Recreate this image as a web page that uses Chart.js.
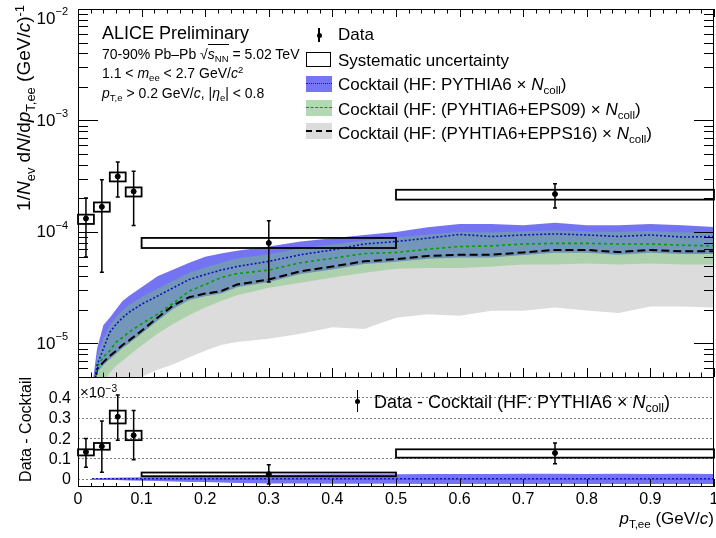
<!DOCTYPE html>
<html>
<head>
<meta charset="utf-8">
<script src="https://cdn.jsdelivr.net/npm/chart.js@4.4.1/dist/chart.umd.min.js"></script>
<style>
  body { margin: 0; background: #fff; }
  #wrap { position: relative; width: 716px; height: 538px; overflow: hidden;
          font-family: "Liberation Sans", Arial, sans-serif; color: #000; }
  canvas { position: absolute; left: 0; }
  .t { position: absolute; white-space: nowrap; line-height: 1; }
  .t sub { font-size: 0.68em; vertical-align: -0.35em; line-height: 0; }
  .t sup { font-size: 0.68em; vertical-align: 0.5em; line-height: 0; }
  .rot { transform-origin: 0 0; transform: rotate(-90deg) translateX(-100%); }
  .sw { position: absolute; }
  .sqrt { border-top: 1px solid #000; padding-top: 1px; }
</style>
</head>
<body>
<div id="wrap">
  <canvas id="topChart" width="716" height="378" style="top:0"></canvas>
  <canvas id="diffChart" width="716" height="168" style="top:370px"></canvas>

  <!-- annotations -->
  <div class="t" style="left:102px; top:24px; font-size:18px;">ALICE Preliminary</div>
  <div class="t" style="left:102px; top:47px; font-size:14px;">70-90% Pb–Pb √<span class="sqrt"><i>s</i><sub>NN</sub></span> = 5.02 TeV</div>
  <div class="t" style="left:102px; top:66px; font-size:14px;">1.1 &lt; <i>m</i><sub>ee</sub> &lt; 2.7 GeV/<i>c</i><sup>2</sup></div>
  <div class="t" style="left:102px; top:86px; font-size:14px;"><i>p</i><sub>T,e</sub> &gt; 0.2 GeV/<i>c</i>, |<i>η</i><sub>e</sub>| &lt; 0.8</div>

  <!-- legend top -->
  <div class="sw" style="left:318px; top:28px; width:1.5px; height:14px; background:#000;"></div>
  <div class="sw" style="left:316.5px; top:32.5px; width:5px; height:5px; border-radius:50%; background:#000;"></div>
  <div class="sw" style="left:306px; top:52px; width:23px; height:13px; border:1.5px solid #000;"></div>
  <div class="sw" style="left:306px; top:76px; width:26px; height:16px; background:rgb(118,118,244);"></div>
  <div class="sw" style="left:306px; top:83px; width:26px; height:0; border-top:1.5px dotted #1010c0;"></div>
  <div class="sw" style="left:306px; top:100px; width:26px; height:16px; background:rgb(178,218,178);"></div>
  <div class="sw" style="left:306px; top:107px; width:26px; height:0; border-top:1.5px dashed #00a000;"></div>
  <div class="sw" style="left:306px; top:123px; width:26px; height:16px; background:#dcdcdc;"></div>
  <div class="sw" style="left:306px; top:130px; width:26px; height:0; border-top:2px dashed #000;"></div>
  <div class="t" style="left:338px; top:26px; font-size:17px;">Data</div>
  <div class="t" style="left:338px; top:52px; font-size:17px;">Systematic uncertainty</div>
  <div class="t" style="left:338px; top:76px; font-size:17px;">Cocktail (HF: PYTHIA6 × <i>N</i><sub>coll</sub>)</div>
  <div class="t" style="left:338px; top:101px; font-size:17px;">Cocktail (HF: (PYHTIA6+EPS09) × <i>N</i><sub>coll</sub>)</div>
  <div class="t" style="left:338px; top:125px; font-size:17px;">Cocktail (HF: (PYHTIA6+EPPS16) × <i>N</i><sub>coll</sub>)</div>

  <!-- axis titles -->
  <div class="t rot" style="left:14px; top:5px; font-size:19px;">1/<i>N</i><sub>ev</sub> d<i>N</i>/d<i>p</i><sub>T,ee</sub> (GeV/<i>c</i>)<sup>-1</sup></div>
  <div class="t rot" style="left:18px; top:377px; font-size:16px;">Data - Cocktail</div>
  <div class="t" style="left:80px; top:384px; font-size:15px;">×10<sup>−3</sup></div>
  <div class="t" style="right:2px; top:510px; font-size:17px;"><i>p</i><sub>T,ee</sub> (GeV/<i>c</i>)</div>

  <!-- legend bottom -->
  <div class="sw" style="left:356.5px; top:390px; width:1.5px; height:22px; background:#000;"></div>
  <div class="sw" style="left:355px; top:398.5px; width:5px; height:5px; border-radius:50%; background:#000;"></div>
  <div class="t" style="left:374px; top:393px; font-size:18px;">Data - Cocktail (HF: PYTHIA6 × <i>N</i><sub>coll</sub>)</div>
</div>
<script>
// cocktail grid in pT,ee (GeV/c)
const xs = [0.022, 0.03, 0.04, 0.05, 0.06, 0.07, 0.08, 0.1, 0.125, 0.15, 0.175, 0.2, 0.225, 0.25,
            0.3, 0.35, 0.4, 0.45, 0.5, 0.55, 0.6, 0.65, 0.7, 0.75, 0.8, 0.85, 0.9, 0.95, 1.0];

// cocktail HF: PYTHIA6 x Ncoll
const blueHi = [4e-6, 9e-6, 1.46e-5, 1.7e-5, 2.03e-5, 2.4e-5, 2.66e-5, 3.2e-5, 4.0e-5, 4.6e-5, 5.3e-5, 6.0e-5, 6.4e-5, 6.8e-5,
                7.4e-5, 8.2e-5, 8.8e-5, 9.4e-5, 1.0e-4, 1.1e-4, 1.18e-4, 1.18e-4, 1.15e-4, 1.21e-4, 1.15e-4, 1.15e-4, 1.18e-4, 1.15e-4, 1.11e-4];
const blueCenter = [3e-6, 6.4e-6, 9e-6, 1.26e-5, 1.49e-5, 1.7e-5, 1.9e-5, 2.25e-5, 2.66e-5, 3.16e-5, 3.75e-5, 4.15e-5, 4.55e-5, 4.9e-5,
                    5.45e-5, 6.25e-5, 6.9e-5, 7.8e-5, 8.2e-5, 8.8e-5, 9.5e-5, 9.1e-5, 9.4e-5, 9.6e-5, 9.4e-5, 9.1e-5, 9.4e-5, 9.0e-5, 9.1e-5];
const blueLo = [2.3e-6, 5.5e-6, 6.4e-6, 7.2e-6, 8.1e-6, 9.1e-6, 1.0e-5, 1.23e-5, 1.6e-5, 2.05e-5, 2.45e-5, 2.65e-5, 2.8e-5, 3.2e-5,
                3.55e-5, 4.2e-5, 4.6e-5, 5.15e-5, 5.4e-5, 5.75e-5, 5.9e-5, 5.9e-5, 6.2e-5, 6.5e-5, 6.5e-5, 6.25e-5, 6.5e-5, 6.35e-5, 6.35e-5];

// cocktail HF: (PYTHIA6+EPS09) x Ncoll
const greenHi = [3.5e-6, 7.5e-6, 1.1e-5, 1.45e-5, 1.72e-5, 1.97e-5, 2.2e-5, 2.6e-5, 3.1e-5, 3.65e-5, 4.3e-5, 4.8e-5, 5.3e-5, 5.8e-5,
                 6.3e-5, 7.1e-5, 7.7e-5, 8.4e-5, 8.9e-5, 9.5e-5, 1.0e-4, 9.9e-5, 1.01e-4, 1.03e-4, 1.01e-4, 1.0e-4, 1.02e-4, 9.9e-5, 9.9e-5];
const greenCenter = [3e-6, 6.2e-6, 7.6e-6, 8.6e-6, 1.03e-5, 1.13e-5, 1.26e-5, 1.5e-5, 1.83e-5, 2.3e-5, 2.95e-5, 3.38e-5, 3.9e-5, 4.23e-5,
                     4.55e-5, 5.3e-5, 5.8e-5, 6.4e-5, 6.55e-5, 7.0e-5, 7.4e-5, 7.5e-5, 7.8e-5, 7.9e-5, 7.9e-5, 7.8e-5, 7.8e-5, 7.6e-5, 7.5e-5];
const greenLo = [2e-6, 3e-6, 4.5e-6, 5.5e-6, 6.3e-6, 7e-6, 7.8e-6, 9.6e-6, 1.22e-5, 1.5e-5, 1.8e-5, 2.1e-5, 2.4e-5, 2.7e-5,
                 3.16e-5, 3.5e-5, 3.9e-5, 4.3e-5, 4.67e-5, 4.75e-5, 4.75e-5, 4.9e-5, 5.1e-5, 5.1e-5, 5.2e-5, 5.1e-5, 5.2e-5, 5.1e-5, 5.1e-5];

// cocktail HF: (PYTHIA6+EPPS16) x Ncoll
const grayCenter = [2.5e-6, 5.9e-6, 6.8e-6, 7.7e-6, 8.6e-6, 9.7e-6, 1.06e-5, 1.3e-5, 1.7e-5, 2.2e-5, 2.6e-5, 2.8e-5, 2.95e-5, 3.38e-5,
                    3.74e-5, 4.44e-5, 4.9e-5, 5.45e-5, 5.7e-5, 6.1e-5, 6.25e-5, 6.25e-5, 6.55e-5, 6.9e-5, 6.9e-5, 6.6e-5, 6.9e-5, 6.7e-5, 6.7e-5];
const grayLo = [1e-6, 1.5e-6, 2e-6, 2.5e-6, 3e-6, 3.5e-6, 4e-6, 5e-6, 5.8e-6, 6.5e-6, 7.5e-6, 8.6e-6, 9.7e-6, 1.03e-5,
                1.1e-5, 1.22e-5, 1.4e-5, 1.35e-5, 1.7e-5, 1.83e-5, 1.77e-5, 1.96e-5, 1.96e-5, 2.1e-5, 1.97e-5, 1.88e-5, 2.15e-5, 2.15e-5, 2.1e-5];

// data
const dataX = [0.0125, 0.0375, 0.0625, 0.0875, 0.3, 0.75];
const binLo = [0, 0.025, 0.05, 0.075, 0.1, 0.5];
const binHi = [0.025, 0.05, 0.075, 0.1, 0.5, 1.0];
const dataY = [1.32e-4, 1.68e-4, 3.15e-4, 2.31e-4, 7.97e-5, 2.19e-4];
const statHi = [2.02e-4, 2.94e-4, 4.24e-4, 3.5e-4, 1.26e-4, 2.71e-4];
const statLo = [5.97e-5, 4.34e-5, 2.06e-4, 1.14e-4, 3.56e-5, 1.64e-4];
const sysHi = [1.43e-4, 1.84e-4, 3.42e-4, 2.51e-4, 8.84e-5, 2.39e-4];
const sysLo = [1.18e-4, 1.52e-4, 2.84e-4, 2.08e-4, 7.18e-5, 1.95e-4];

// data - cocktail (x 1e-3)
const diffY = [0.132, 0.16, 0.305, 0.214, 0.023, 0.127];
const diffStatHi = [0.198, 0.284, 0.412, 0.335, 0.069, 0.176];
const diffStatLo = [0.057, 0.033, 0.19, 0.094, -0.025, 0.074];
const diffSysHi = [0.145, 0.176, 0.335, 0.236, 0.031, 0.145];
const diffSysLo = [0.115, 0.143, 0.272, 0.19, 0.013, 0.104];
const diffBandHi = [0.002, 0.003, 0.004, 0.005, 0.006, 0.007, 0.007, 0.008, 0.01, 0.012, 0.014, 0.015, 0.016, 0.017,
                    0.02, 0.021, 0.022, 0.023, 0.023, 0.024, 0.024, 0.024, 0.025, 0.025, 0.024, 0.025, 0.024, 0.025, 0.024];
const diffBandLo = [-0.002, -0.003, -0.004, -0.005, -0.006, -0.007, -0.008, -0.009, -0.011, -0.013, -0.015, -0.016, -0.018, -0.02,
                    -0.023, -0.023, -0.024, -0.024, -0.024, -0.025, -0.025, -0.025, -0.025, -0.025, -0.025, -0.025, -0.025, -0.025, -0.025];
const diffCenter = [0, 0, 0, 0, 0, 0, 0, 0, 0, 0, 0, 0, 0, 0, 0, 0, 0, 0, 0, 0, 0, 0, 0, 0, 0, 0, 0, 0, 0];

// ticks
const xTickValues = [0, 0.1, 0.2, 0.3, 0.4, 0.5, 0.6, 0.7, 0.8, 0.9, 1];
const xTickLabels = ["0", "0.1", "0.2", "0.3", "0.4", "0.5", "0.6", "0.7", "0.8", "0.9", "1"];
const yTopDecades = [-5, -4, -3, -2];
const yDiffTicks = [0, 0.1, 0.2, 0.3, 0.4];
const yDiffLabels = ["0", "0.1", "0.2", "0.3", "0.4"];

const FONT = '"Liberation Sans", Arial, sans-serif';
const BLUE_FILL = "rgba(85,85,240,0.82)";
const GREEN_FILL = "rgba(115,195,115,0.45)";
const GRAY_FILL = "#dcdcdc";

function pts(arr) {
  return xs.map((x, i) => ({ x: x, y: arr[i] }));
}

function line(arr, color, dash, width, order) {
  return { data: pts(arr), borderColor: color, borderDash: dash, borderWidth: width,
           pointRadius: 0, pointHoverRadius: 0, fill: false, order: order, tension: 0 };
}

function band(arr, target, color, order) {
  return { data: pts(arr), borderColor: "transparent", borderWidth: 0, pointRadius: 0, pointHoverRadius: 0,
           fill: target === null ? false : { target: target }, backgroundColor: color, order: order };
}

function drawMeasurements(ctx, x, y, vals, lo, hi, sLo, sHi) {
  ctx.save();
  ctx.strokeStyle = "#000";
  for (let i = 0; i < dataX.length; i++) {
    const x0 = x.getPixelForValue(binLo[i]);
    const x1 = x.getPixelForValue(binHi[i]);
    const y0 = y.getPixelForValue(sHi[i]);
    const y1 = y.getPixelForValue(sLo[i]);
    ctx.lineWidth = 1.8;
    ctx.strokeRect(x0, y0, x1 - x0, y1 - y0);
    const px = x.getPixelForValue(dataX[i]);
    const e0 = y.getPixelForValue(hi[i]);
    const e1 = y.getPixelForValue(lo[i]);
    ctx.lineWidth = 1.5;
    ctx.beginPath();
    ctx.moveTo(px, e0); ctx.lineTo(px, e1);
    ctx.moveTo(px - 2, e0); ctx.lineTo(px + 2, e0);
    ctx.moveTo(px - 2, e1); ctx.lineTo(px + 2, e1);
    ctx.stroke();
  }
  ctx.restore();
}

const topDecor = {
  id: "topDecor",
  afterDatasetsDraw(chart) {
    const { ctx, scales } = chart;
    drawMeasurements(ctx, scales.x, scales.y, dataY, statLo, statHi, sysLo, sysHi);
  },
  afterDraw(chart) {
    const { ctx, chartArea: a, scales } = chart;
    const x = scales.x, y = scales.y;
    ctx.save();
    ctx.strokeStyle = "#000";
    ctx.lineWidth = 1;
    ctx.beginPath();
    for (let i = 0; i <= 50; i++) {
      const px = Math.round(x.getPixelForValue(i / 50)) + 0.5;
      const major = i % 5 === 0;
      ctx.moveTo(px, a.bottom); ctx.lineTo(px, a.bottom - (major ? 9 : 4.5));
      ctx.moveTo(px, a.top); ctx.lineTo(px, a.top + (major ? 8 : 4.5));
    }
    for (let e = -6; e <= -2; e++) {
      for (let m = 1; m <= 9; m++) {
        const v = m * Math.pow(10, e);
        if (v < y.min || v > y.max) continue;
        const py = Math.round(y.getPixelForValue(v)) + 0.5;
        const len = m === 1 ? 20 : 10;
        ctx.moveTo(a.left, py); ctx.lineTo(a.left + len, py);
        ctx.moveTo(a.right, py); ctx.lineTo(a.right - len, py);
      }
    }
    ctx.stroke();
    ctx.strokeRect(a.left + 0.5, a.top + 0.5, a.right - a.left - 1, a.bottom - a.top);

    // decade labels 10^n
    ctx.fillStyle = "#000";
    ctx.textBaseline = "alphabetic";
    yTopDecades.forEach(e => {
      const py = Math.max(y.getPixelForValue(Math.pow(10, e)), a.top + 9);
      const sup = "\u2212" + (-e);
      ctx.font = "11px " + FONT;
      const ws = ctx.measureText(sup).width;
      ctx.font = "17px " + FONT;
      const wb = ctx.measureText("10").width;
      ctx.fillText("10", 68 - ws - wb, py + 5.5);
      ctx.font = "11px " + FONT;
      ctx.fillText(sup, 68 - ws, py - 3);
    });
    ctx.restore();
  }
};

new Chart(document.getElementById("topChart"), {
  type: "line",
  data: {
    datasets: [
      line(blueCenter, "#1010c0", [2, 2], 1.6, 0),
      line(greenCenter, "#00a000", [3, 3], 1.6, 1),
      line(grayCenter, "#000", [8, 4], 2, 2),
      { data: dataX.map((x, i) => ({ x: x, y: dataY[i] })), showLine: false, pointRadius: 2.5, pointHoverRadius: 0,
        pointBackgroundColor: "#000", pointBorderColor: "#000", order: -1 },
      band(greenHi, 5, GREEN_FILL, 5),
      band(greenLo, null, "transparent", 6),
      band(blueHi, 7, BLUE_FILL, 7),
      band(blueLo, null, "transparent", 8),
      band(grayLo, 2, GRAY_FILL, 9)
    ]
  },
  options: {
    responsive: false,
    animation: false,
    events: [],
    layout: { autoPadding: false, padding: { left: 78, right: 2, top: 9, bottom: 1 } },
    plugins: { legend: { display: false }, tooltip: { enabled: false } },
    scales: {
      x: { type: "linear", min: 0, max: 1, display: false },
      y: { type: "logarithmic", min: 5e-6, max: 1e-2, display: false }
    }
  },
  plugins: [topDecor]
});

const diffDecor = {
  id: "diffDecor",
  beforeDatasetsDraw(chart) {
    const { ctx, chartArea: a, scales } = chart;
    ctx.save();
    ctx.strokeStyle = "rgba(0,0,0,0.5)";
    ctx.lineWidth = 1;
    ctx.setLineDash([2, 2]);
    ctx.beginPath();
    yDiffTicks.forEach(v => {
      const py = Math.round(scales.y.getPixelForValue(v)) + 0.5;
      ctx.moveTo(a.left, py); ctx.lineTo(a.right, py);
    });
    ctx.stroke();
    ctx.restore();
  },
  afterDatasetsDraw(chart) {
    const { ctx, scales } = chart;
    drawMeasurements(ctx, scales.x, scales.y, diffY, diffStatLo, diffStatHi, diffSysLo, diffSysHi);
  },
  afterDraw(chart) {
    const { ctx, chartArea: a, scales } = chart;
    const x = scales.x, y = scales.y;
    ctx.save();
    ctx.strokeStyle = "#000";
    ctx.lineWidth = 1;
    ctx.beginPath();
    for (let i = 0; i <= 50; i++) {
      const px = Math.round(x.getPixelForValue(i / 50)) + 0.5;
      const major = i % 5 === 0;
      ctx.moveTo(px, a.bottom); ctx.lineTo(px, a.bottom - (major ? 8 : 4));
    }
    ctx.stroke();
    ctx.strokeRect(a.left + 0.5, a.top + 0.5, a.right - a.left - 1, a.bottom - a.top - 1);

    ctx.fillStyle = "#000";
    ctx.font = "16px " + FONT;
    ctx.textAlign = "center";
    ctx.textBaseline = "alphabetic";
    xTickValues.forEach((v, i) => {
      ctx.fillText(xTickLabels[i], x.getPixelForValue(v), a.bottom + 16.5);
    });
    ctx.textAlign = "right";
    ctx.textBaseline = "middle";
    yDiffTicks.forEach((v, i) => {
      ctx.fillText(yDiffLabels[i], 71, y.getPixelForValue(v) + 1);
    });
    ctx.restore();
  }
};

new Chart(document.getElementById("diffChart"), {
  type: "line",
  data: {
    datasets: [
      line(diffCenter, "#1010c0", [2, 2], 1.5, 0),
      { data: dataX.map((x, i) => ({ x: x, y: diffY[i] })), showLine: false, pointRadius: 2.5, pointHoverRadius: 0,
        pointBackgroundColor: "#000", pointBorderColor: "#000", order: -1 },
      band(diffBandHi, 3, BLUE_FILL, 5),
      band(diffBandLo, null, "transparent", 6)
    ]
  },
  options: {
    responsive: false,
    animation: false,
    events: [],
    layout: { autoPadding: false, padding: { left: 78, right: 2, top: 7, bottom: 51 } },
    plugins: { legend: { display: false }, tooltip: { enabled: false } },
    scales: {
      x: { type: "linear", min: 0, max: 1, display: false },
      y: { type: "linear", min: -0.04, max: 0.5, display: false }
    }
  },
  plugins: [diffDecor]
});
</script>
</body>
</html>
